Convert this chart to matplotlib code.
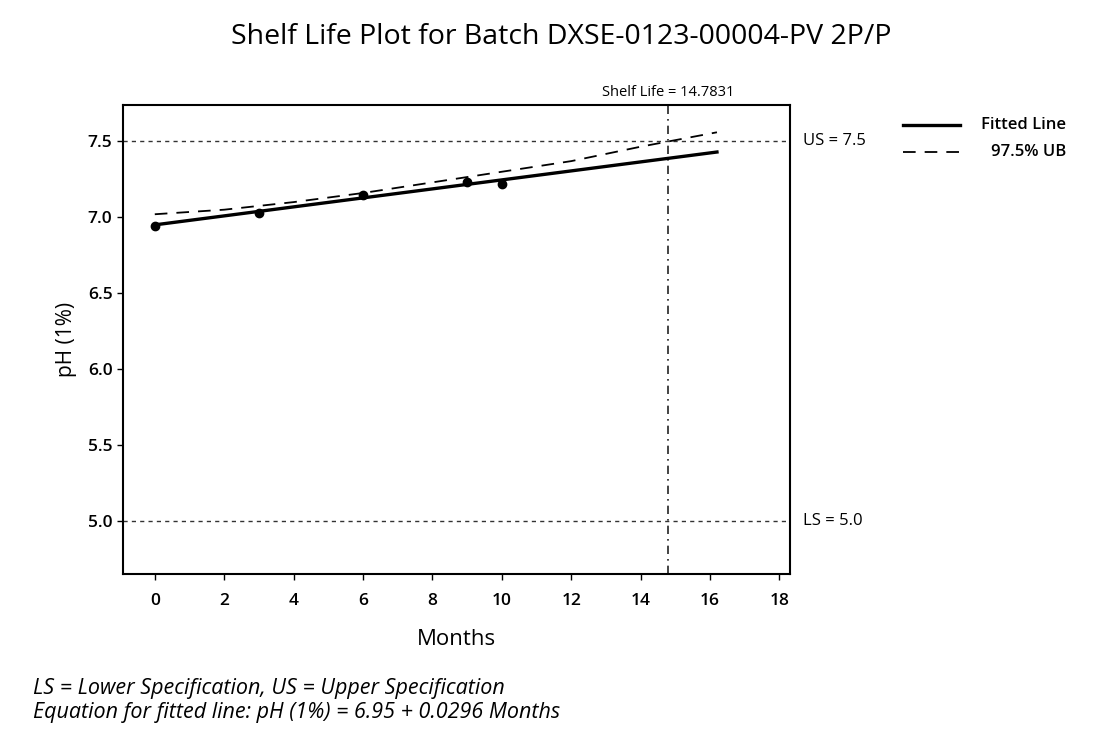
import matplotlib
matplotlib.use("Agg")
import matplotlib.pyplot as plt
from matplotlib.lines import Line2D

# observed batch data
months = [0, 3, 6, 9, 10]
ph = [6.94, 7.03, 7.15, 7.23, 7.22]

# fitted line pH = 6.95 + 0.0296 Months, drawn to 16.2 months
fit_months = [0, 16.2]
fit_ph = [6.95, 7.43]

# 97.5% upper bound
ub_months = [0, 2, 4, 6, 8, 10, 12, 14, 16.2]
ub_ph = [7.02, 7.05, 7.10, 7.16, 7.23, 7.30, 7.37, 7.465, 7.56]

upper_spec = 7.5
lower_spec = 5.0
shelf_life = 14.7831

xticks = [0, 2, 4, 6, 8, 10, 12, 14, 16, 18]
yticks = [5.0, 5.5, 6.0, 6.5, 7.0, 7.5]
legend_labels = ["Fitted Line", "97.5% UB"]

plt.rcParams['font.family'] = ['Open Sans', 'DejaVu Sans']

fig = plt.figure(figsize=(10.97, 7.34), dpi=100)
ax = fig.add_axes([0.112, 0.218, 0.608, 0.639])

ax.axhline(upper_spec, color="#333333", ls=(0, (3, 3)), lw=1)
ax.axhline(lower_spec, color="#333333", ls=(0, (3, 3)), lw=1)
ax.axvline(shelf_life, color="#222222", ls=(0, (5, 3, 1, 3)), lw=1.2)

fit_style = dict(color="black", lw=2.4)
ub_style = dict(color="black", lw=1.3, ls=(0, (7, 5)))
ax.plot(fit_months, fit_ph, **fit_style)
ax.plot(ub_months, ub_ph, **ub_style)
ax.plot(months, ph, "o", color="black", ms=6)

ax.set_xlim(-0.92, 18.3)
ax.set_ylim(4.65, 7.74)
ax.set_xticks(xticks)
ax.set_yticks(yticks)
ax.set_yticklabels([f"{v:.1f}" for v in yticks])
ax.tick_params(labelsize=12.5, length=4, width=1)
ax.tick_params(axis="x", pad=10)
for lbl in ax.get_xticklabels() + ax.get_yticklabels():
    lbl.set_fontweight("semibold")
for s in ax.spines.values():
    s.set_linewidth(1.5)

ax.set_xlabel("Months", fontsize=16, labelpad=14)
ax.set_ylabel("pH (1%)", fontsize=15, labelpad=8)

ax.text(shelf_life, 1.01, f"Shelf Life = {shelf_life}", transform=ax.get_xaxis_transform(),
        ha="center", va="bottom", fontsize=10.5)
ax.text(1.02, upper_spec, f"US = {upper_spec}", transform=ax.get_yaxis_transform(),
        va="center", fontsize=12)
ax.text(1.02, lower_spec, f"LS = {lower_spec}", transform=ax.get_yaxis_transform(),
        va="center", fontsize=12)

# legend drawn by hand so the labels can be right-aligned
for y, style, label in zip([0.830, 0.793], [fit_style, ub_style], legend_labels):
    fig.add_artist(Line2D([0.823, 0.875], [y, y], transform=fig.transFigure, **style))
    fig.text(0.972, y, label, ha="right", va="center", fontsize=12, fontweight="semibold")

fig.suptitle("Shelf Life Plot for Batch DXSE-0123-00004-PV 2P/P", x=0.512, y=0.968,
             fontsize=20.5)

fig.text(0.03, 0.055, "LS = Lower Specification, US = Upper Specification",
         fontsize=15.5, style="italic")
fig.text(0.03, 0.022, "Equation for fitted line: pH (1%) = 6.95 + 0.0296 Months",
         fontsize=15.5, style="italic")

fig.savefig("out.png", dpi=100)
